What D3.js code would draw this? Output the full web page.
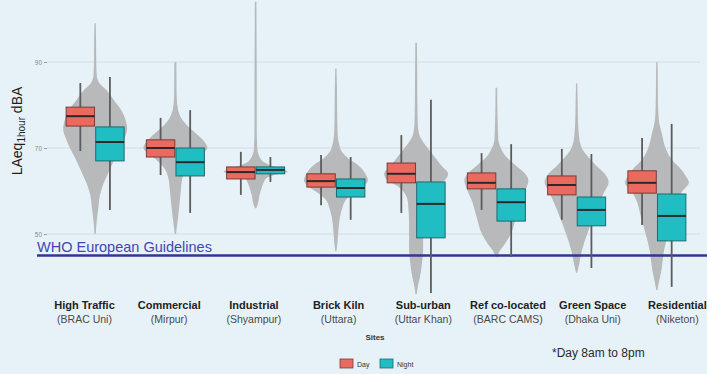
<!DOCTYPE html>
<html>
<head>
<meta charset="utf-8">
<script src="https://cdn.jsdelivr.net/npm/d3@7"></script>
<style>
  html, body { margin: 0; padding: 0; background: #e7f2f8; }
  svg { display: block; font-family: "Liberation Sans", Arial, sans-serif; }
</style>
</head>
<body>
<svg id="chart" width="707" height="374"></svg>
<script>
// Monitoring sites and their locations
const sites = ["High Traffic", "Commercial", "Industrial", "Brick Kiln", "Sub-urban", "Ref co-located", "Green Space", "Residential"];
const siteAreas = ["(BRAC Uni)", "(Mirpur)", "(Shyampur)", "(Uttara)", "(Uttar Khan)", "(BARC CAMS)", "(Dhaka Uni)", "(Niketon)"];
const periods = ["Day", "Night"];

// Box statistics, dBA: [lower whisker, Q1, median, Q3, upper whisker]
const dayStats = [
  [69.3, 75.1, 77.4, 79.5, 85.1],
  [63.7, 67.9, 70.0, 71.9, 77.0],
  [59.1, 62.8, 64.4, 65.6, 69.1],
  [56.7, 60.9, 62.3, 64.0, 68.4],
  [54.9, 61.9, 64.0, 66.5, 73.0],
  [55.6, 60.5, 61.9, 64.2, 68.8],
  [53.3, 59.1, 61.4, 63.5, 69.8],
  [52.1, 59.5, 61.9, 64.7, 72.3]
];
const nightStats = [
  [55.6, 67.0, 71.4, 74.9, 86.5],
  [54.9, 63.5, 66.7, 70.0, 78.8],
  [62.1, 64.0, 64.9, 65.6, 67.9],
  [53.3, 58.6, 60.7, 62.8, 67.9],
  [36.3, 49.1, 57.0, 62.1, 81.2],
  [44.7, 53.0, 57.4, 60.5, 70.9],
  [42.1, 51.9, 55.6, 58.6, 68.6],
  [37.7, 48.4, 54.2, 59.3, 75.6]
];

// Violin outlines for all hourly values per site: [dBA, relative density]
const violinHighTraffic = [[99,0.02],[95,0.03],[90,0.035],[87,0.05],[85,0.14],[83.5,0.35],[81,0.6],[79,0.8],[76,0.97],[74.5,1.0],[72,0.9],[69,0.72],[67,0.58],[64,0.4],[61.5,0.25],[59,0.15],[56,0.1],[53,0.05],[50,0.02]];
const violinCommercial = [[90,0.03],[86,0.035],[82,0.04],[79,0.08],[77,0.18],[75,0.4],[73,0.7],[71,0.95],[70,1.0],[68.5,0.8],[67,0.55],[65,0.32],[63,0.22],[60,0.17],[57,0.13],[53,0.07],[50,0.02]];
const violinIndustrial = [[104,0.025],[95,0.03],[85,0.035],[75,0.035],[70,0.05],[67.2,0.18],[66,0.45],[65.2,0.8],[64.5,1.0],[63.8,0.6],[63.2,0.38],[62,0.25],[61,0.2],[59,0.12],[57,0.07],[56,0.02]];
const violinBrickKiln = [[88.5,0.02],[85,0.03],[83.5,0.035],[78,0.04],[74,0.05],[71,0.1],[69,0.2],[67.5,0.4],[66,0.7],[64,0.92],[62.5,1.0],[61,0.85],[59.5,0.55],[58,0.32],[56,0.2],[54,0.13],[51,0.08],[48,0.05],[46,0.02]];
const violinSubUrban = [[94.5,0.025],[90,0.03],[85,0.035],[80,0.04],[76,0.05],[73,0.1],[72,0.17],[69,0.47],[66,0.78],[64,1.0],[62.5,0.9],[61,0.55],[59,0.32],[57,0.25],[52,0.22],[47,0.22],[43,0.18],[40,0.12],[38,0.06],[36,0.02]];
const violinRefCoLocated = [[84,0.025],[80,0.03],[76,0.04],[72,0.06],[70,0.14],[68,0.3],[66,0.6],[64,0.9],[62.5,1.0],[60,0.9],[58,0.78],[54,0.62],[50,0.45],[47.5,0.25],[46,0.1],[44.7,0.02]];
const violinGreenSpace = [[85,0.02],[83,0.025],[81.5,0.03],[77,0.04],[73,0.07],[70,0.16],[68,0.35],[66,0.6],[64,0.88],[62,1.0],[60,0.88],[58,0.75],[54,0.53],[50,0.33],[46,0.16],[43,0.08],[41,0.02]];
const violinResidential = [[90,0.02],[88,0.025],[84,0.03],[79,0.04],[76,0.07],[73.5,0.15],[69.5,0.3],[67,0.5],[65.5,0.7],[63.5,0.9],[62,1.0],[60,0.8],[58,0.65],[54,0.5],[50,0.35],[46,0.22],[42,0.15],[39,0.07],[37,0.02]];

const yTicks = [50, 70, 90];
const whoGuideline = 45;

const violins = [violinHighTraffic, violinCommercial, violinIndustrial, violinBrickKiln,
                 violinSubUrban, violinRefCoLocated, violinGreenSpace, violinResidential];
const boxRows = sites.flatMap((s, i) => [
  { site: s, period: "Day", st: dayStats[i] },
  { site: s, period: "Night", st: nightStats[i] }
]);

const W = 707, H = 374;
const svg = d3.select("#chart");

const x = d3.scaleBand().domain(sites).range([55, 697]);
const dodge = d3.scaleBand().domain(periods).range([-29, 29]).paddingInner(0.04);
const y = d3.scaleLinear().domain([50, 90]).range([234, 62]);
const vw = d3.scaleLinear().domain([0, 1]).range([0, 32]);
const labelX = d3.scalePoint().domain(sites).range([84.5, 677.4]);
const fill = d3.scaleOrdinal().domain(periods).range(["#ea6a5f", "#20bdc3"]);
const edge = d3.scaleOrdinal().domain(periods).range(["#7a3b35", "#1c6b6e"]);
const cx = s => x(s) + x.bandwidth() / 2;

svg.append("rect").attr("width", W).attr("height", H).attr("fill", "#e7f2f8");

// horizontal grid
svg.append("g").selectAll("line").data(yTicks).join("line")
  .attr("x1", 47).attr("x2", 700)
  .attr("y1", d => y(d)).attr("y2", d => y(d))
  .attr("stroke", "#d2dce2").attr("stroke-width", 1);

// y axis
svg.append("g").attr("transform", "translate(47,0)")
  .call(d3.axisLeft(y).tickValues(yTicks).tickSize(3).tickPadding(2))
  .call(g => g.select(".domain").remove())
  .call(g => g.selectAll("line").attr("stroke", "#9a9a9a"))
  .call(g => g.selectAll("text").attr("font-size", 6.5).attr("fill", "#888")
    .attr("font-family", "Liberation Sans, Arial, sans-serif"));

// y axis title
const yt = svg.append("text")
  .attr("transform", `translate(22,${131}) rotate(-90)`)
  .attr("text-anchor", "middle")
  .attr("font-size", 14).attr("fill", "#1e1e1e");
yt.append("tspan").text("LAeq");
yt.append("tspan").attr("font-size", 10).attr("dy", 3).text("1hour");
yt.append("tspan").attr("dy", -3).text(" dBA");

// violins
const area = d3.area().curve(d3.curveMonotoneY).y(d => y(d[0]));
svg.append("g").selectAll("path").data(sites).join("path")
  .attr("d", (s, i) => area.x0(d => cx(s) - vw(d[1])).x1(d => cx(s) + vw(d[1]))(violins[i]))
  .attr("fill", "#b7b9bb");

// WHO guideline
svg.append("line")
  .attr("x1", 37).attr("x2", W)
  .attr("y1", y(whoGuideline)).attr("y2", y(whoGuideline))
  .attr("stroke", "#34358e").attr("stroke-width", 2.5);
svg.append("text")
  .attr("x", 37).attr("y", y(whoGuideline) - 4)
  .attr("font-size", 14.5).attr("fill", "#4246b4")
  .text("WHO European Guidelines");

// box plots
const boxes = svg.append("g").selectAll("g").data(boxRows).join("g")
  .attr("transform", d => `translate(${cx(d.site) + dodge(d.period)},0)`);
const bw = dodge.bandwidth();
boxes.append("line")
  .attr("x1", bw / 2).attr("x2", bw / 2)
  .attr("y1", d => y(d.st[4])).attr("y2", d => y(d.st[0]))
  .attr("stroke", "#5c5c5c").attr("stroke-width", 1.8);
boxes.append("rect")
  .attr("x", 0).attr("width", bw)
  .attr("y", d => y(d.st[3])).attr("height", d => y(d.st[1]) - y(d.st[3]))
  .attr("fill", d => fill(d.period)).attr("stroke", d => edge(d.period)).attr("stroke-width", 1);
boxes.append("line")
  .attr("x1", 0).attr("x2", bw)
  .attr("y1", d => y(d.st[2])).attr("y2", d => y(d.st[2]))
  .attr("stroke", "#2a2a2a").attr("stroke-width", 2);

// x labels
const xl = svg.append("g").selectAll("g").data(sites).join("g")
  .attr("transform", s => `translate(${labelX(s)},0)`);
xl.append("text").attr("y", 309).attr("text-anchor", "middle")
  .attr("font-size", 11).attr("font-weight", "bold").attr("fill", "#222")
  .text(s => s);
xl.append("text").attr("y", 323).attr("text-anchor", "middle")
  .attr("font-size", 10.5).attr("fill", "#4a4a4a")
  .text((s, i) => siteAreas[i]);

svg.append("text").attr("x", 375).attr("y", 340).attr("text-anchor", "middle")
  .attr("font-size", 8).attr("font-weight", "bold").attr("fill", "#333").text("Sites");

// legend
const lg = svg.append("g").selectAll("g").data(periods).join("g")
  .attr("transform", (p, i) => `translate(${340 + i * 40},359)`);
lg.append("rect").attr("width", 13).attr("height", 9)
  .attr("fill", p => fill(p)).attr("stroke", p => edge(p)).attr("stroke-width", 0.8);
lg.append("text").attr("x", 17).attr("y", 7.5).attr("font-size", 7).attr("fill", "#333").text(p => p);

svg.append("text").attr("x", 552).attr("y", 357)
  .attr("font-size", 12).attr("fill", "#2a2a2a").text("*Day 8am to 8pm");
</script>
</body>
</html>
